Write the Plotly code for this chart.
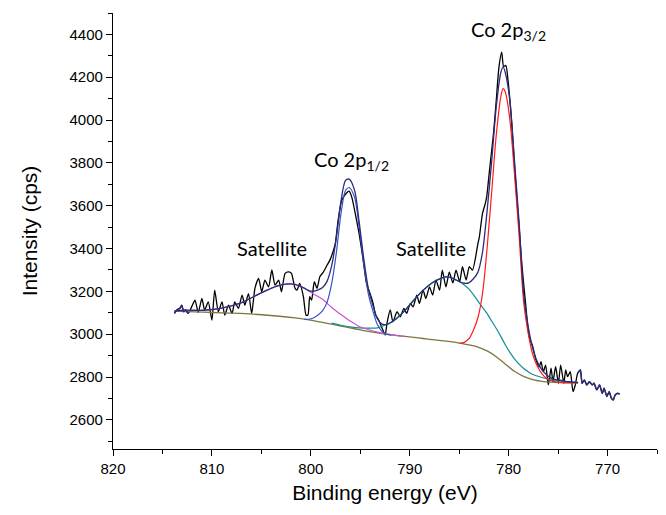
import plotly.graph_objects as go

# ---------------- data (binding energy in eV, intensity in cps) ----------------
raw_E = [813.79, 813.55, 813.23, 813.05, 812.86, 812.68, 812.40, 812.03, 811.71, 811.38,
         811.01, 810.74, 810.37, 810.00, 809.72, 809.35, 808.98, 808.70, 808.33, 807.96,
         807.69, 807.32, 806.95, 806.67, 806.30, 805.98, 805.65, 805.28, 804.96, 804.64,
         804.27, 803.94, 803.62, 803.25, 802.97, 802.60, 802.23, 801.96, 801.59, 801.40,
         801.12, 800.75, 800.48, 800.29, 800.11, 799.92, 799.65, 799.37, 799.09, 798.72,
         798.35, 798.07, 797.70, 797.52, 797.24, 796.87, 796.41, 796.13, 795.86, 795.49,
         795.12, 794.75, 794.38, 794.01, 793.73, 793.45, 793.18, 792.81, 792.48, 792.30,
         791.97, 791.70, 791.28, 790.96, 790.59, 790.31, 789.94, 789.66, 789.29, 789.02,
         788.65, 788.37, 788.00, 787.68, 787.35, 786.98, 786.71, 786.34, 786.00, 785.64,
         785.32, 784.95, 784.67, 784.30, 783.98, 783.66, 783.10, 782.96, 782.64, 782.36,
         782.22, 781.90, 781.53, 781.25, 780.98, 780.70, 780.51, 780.28, 780.05, 779.68,
         779.31, 778.94, 778.67, 778.30, 777.93, 777.56, 777.28, 776.91, 776.73, 776.49,
         776.26, 775.99, 775.71, 775.52, 775.25, 774.97, 774.74, 774.42, 774.23, 774.04,
         773.77, 773.49, 773.26, 773.03, 772.75, 772.57, 772.34, 772.10, 771.83, 771.55,
         771.37, 771.09, 770.81, 770.53, 770.35, 770.07, 769.84, 769.61, 769.42, 769.24,
         768.96, 768.78]
raw_I = [3097, 3113, 3121, 3136, 3105, 3113, 3097, 3130, 3159, 3102,
         3167, 3113, 3151, 3066, 3206, 3105, 3151, 3089, 3136, 3097,
         3151, 3121, 3183, 3136, 3190, 3097, 3214, 3261, 3198, 3253,
         3221, 3300, 3229, 3253, 3198, 3284, 3291, 3284, 3214, 3206,
         3237, 3175, 3089, 3090, 3175, 3159, 3245, 3214, 3268, 3291,
         3323, 3346, 3393, 3424, 3532, 3626, 3658, 3668, 3640, 3560,
         3470, 3360, 3240, 3190, 3150, 3090, 3070, 3030, 2996, 3051,
         3113, 3058, 3105, 3081, 3121, 3097, 3144, 3128, 3183, 3144,
         3206, 3167, 3221, 3183, 3253, 3206, 3299, 3221, 3290, 3240,
         3299, 3245, 3315, 3253, 3315, 3299, 3424, 3455, 3564, 3610,
         3641, 3781, 3937, 4092, 4247, 4317, 4250, 4255, 4180, 3980,
         3720, 3500, 3330, 3150, 2990, 2942, 2887, 2848, 2872, 2825,
         2856, 2763, 2841, 2778, 2848, 2771, 2856, 2771, 2833, 2802,
         2825, 2732, 2763, 2817, 2833, 2771, 2786, 2763, 2778, 2763,
         2771, 2740, 2763, 2724, 2748, 2709, 2732, 2701, 2693, 2716,
         2724, 2720]

bg_E = [813.80, 812.68, 810.83, 808.98, 807.13, 805.28, 803.43, 801.59, 800.66, 799.74,
        798.81, 797.89, 796.96, 796.04, 795.11, 794.19, 793.27, 792.34, 791.42, 790.50,
        789.57, 788.65, 787.72, 786.80, 785.88, 784.95, 784.03, 783.10, 782.18, 781.25,
        780.33, 779.41, 778.48, 777.56, 776.64, 775.71, 774.79, 773.86, 772.98]
bg_I = [3108, 3106, 3103, 3100, 3097, 3092, 3085, 3076, 3070, 3063,
        3055, 3047, 3038, 3030, 3021, 3013, 3006, 3000, 2995, 2990,
        2985, 2980, 2975, 2970, 2965, 2958, 2950, 2940, 2922, 2895,
        2860, 2827, 2803, 2788, 2780, 2776, 2774, 2773, 2773]

p32_E = [784.96, 784.49, 784.03, 783.56, 783.10, 782.64, 782.18, 781.72, 781.25, 780.79,
         780.56, 780.33, 779.87, 779.41, 778.94, 778.48, 778.02, 777.56, 777.10, 776.63,
         776.17, 775.71, 775.25, 774.79, 773.86, 772.98]
p32_I = [2957, 2962, 2978, 3019, 3078, 3190, 3400, 3660, 3930, 4110,
         4147, 4130, 4000, 3750, 3460, 3150, 3004, 2905, 2850, 2815,
         2794, 2783, 2778, 2775, 2774, 2773]

sat32_E = [797.89, 796.96, 796.04, 795.11, 794.19, 793.27, 792.34, 791.42, 790.50, 789.57,
           788.65, 787.72, 786.80, 786.34, 785.88, 785.41, 784.95, 784.49, 784.03, 783.56,
           783.10, 782.64, 782.18, 781.72, 781.25, 780.79, 780.33, 779.87, 779.41, 778.94,
           778.48, 778.02, 777.56, 776.63, 775.71, 774.79, 773.86, 772.98]
sat32_I = [3052, 3042, 3034, 3030, 3028, 3030, 3045, 3070, 3110, 3160,
           3205, 3240, 3262, 3268, 3265, 3255, 3245, 3230, 3212, 3185,
           3155, 3125, 3097, 3062, 3027, 2990, 2950, 2915, 2885, 2860,
           2840, 2825, 2812, 2798, 2788, 2782, 2776, 2774]

sat12_E = [813.80, 812.68, 810.83, 808.98, 807.13, 806.21, 805.28, 804.36, 803.43, 802.51,
           801.59, 800.66, 799.74, 798.81, 797.89, 796.96, 796.04, 795.11, 794.19, 793.27,
           792.34, 791.42, 790.50]
sat12_I = [3108, 3110, 3112, 3122, 3145, 3165, 3187, 3207, 3225, 3234,
           3232, 3215, 3188, 3163, 3125, 3092, 3062, 3036, 3022, 3010,
           3001, 2995, 2990]

p12_E = [800.66, 800.20, 799.74, 799.27, 798.81, 798.35, 797.89, 797.42, 796.96, 796.50,
         796.13, 795.58, 795.11, 794.65, 794.19, 793.73, 793.27, 792.80, 792.34, 791.88]
p12_I = [3070, 3070, 3076, 3090, 3110, 3150, 3237, 3380, 3560, 3670,
         3685, 3640, 3500, 3330, 3190, 3110, 3045, 3012, 3000, 2996]

env_E = [813.80, 812.68, 810.83, 808.98, 807.13, 806.21, 805.28, 804.36, 803.43, 802.51,
         801.59, 800.66, 800.20, 799.74, 799.27, 798.81, 798.35, 797.89, 797.42, 796.96,
         796.50, 796.13, 795.58, 795.11, 794.65, 794.19, 793.73, 793.27, 792.80, 792.34,
         791.42, 790.50, 789.57, 788.65, 787.72, 786.80, 786.34, 785.88, 785.41, 784.95,
         784.49, 784.03, 783.56, 783.10, 782.64, 782.18, 781.72, 781.25, 780.79, 780.56,
         780.33, 779.87, 779.41, 778.94, 778.48, 778.02, 777.56, 777.10, 776.63, 776.17,
         775.71, 775.25, 774.79, 773.86, 772.98]
env_I = [3108, 3112, 3112, 3122, 3145, 3165, 3187, 3207, 3225, 3234,
         3233, 3215, 3204, 3201, 3207, 3218, 3248, 3320, 3451, 3618,
         3717, 3724, 3673, 3524, 3354, 3214, 3136, 3073, 3047, 3046,
         3070, 3110, 3160, 3205, 3240, 3262, 3268, 3265, 3256, 3245,
         3238, 3240, 3259, 3290, 3384, 3575, 3804, 4062, 4222, 4248,
         4220, 4090, 3810, 3520, 3187, 3034, 2934, 2871, 2833, 2811,
         2795, 2788, 2785, 2778, 2775]

fit_low, fit_high = 773.1, 812.4   # fitting window (data outside shown in navy)

labels = ["Satellite", "Satellite", "Co 2p<sub>1/2</sub>", "Co 2p<sub>3/2</sub>"]
label_E = [803.9, 787.9, 795.9, 780.05]
label_I = [3402, 3402, 3812, 4419]

# ---------------- figure ----------------
NAVY = "#2c2c7c"
fig = go.Figure()

def line(x, y, color, width=1.2, shape="spline", smoothing=0.8):
    fig.add_trace(go.Scatter(x=x, y=y, mode="lines",
                             line=dict(color=color, width=width, shape=shape, smoothing=smoothing),
                             showlegend=False, hoverinfo="skip"))

line(raw_E, raw_I, "#000000", 1.3, smoothing=0.6)
line(bg_E, bg_I, "#7e7640", 1.3)
line(sat32_E, sat32_I, "#12918f", 1.2)
line(sat12_E, sat12_I, "#cf4fcf", 1.2)
line(p12_E, p12_I, "#3552c8", 1.2)
line(p32_E, p32_I, "#ff1a1a", 1.2)
line(env_E, env_I, NAVY, 1.3)

left = [(e, i) for e, i in zip(raw_E, raw_I) if e >= fit_high]
right = [(e, i) for e, i in zip(raw_E, raw_I) if e <= fit_low]
line([p[0] for p in left], [p[1] for p in left], NAVY, 1.4, smoothing=0.6)
line([p[0] for p in right], [p[1] for p in right], NAVY, 1.4, smoothing=0.6)

for t, e, i in zip(labels, label_E, label_I):
    fig.add_annotation(x=e, y=i, text=t, showarrow=False,
                       font=dict(family="Lato, Noto Sans, sans-serif", size=20, color="#000000"))

FONT = "Liberation Sans, Arial, sans-serif"
axis_common = dict(showline=True, linecolor="#000000", linewidth=1.3, showgrid=False,
                   zeroline=False, ticks="outside", ticklen=6, tickwidth=1.2,
                   tickcolor="#000000",
                   tickfont=dict(family=FONT, size=15, color="#000000"))

fig.update_layout(
    width=666, height=515,
    margin=dict(l=113, r=9, t=13, b=66),
    plot_bgcolor="#ffffff", paper_bgcolor="#ffffff",
    xaxis=dict(range=[820, 765], tickmode="linear", tick0=770, dtick=10,
               minor=dict(ticks="outside", ticklen=4, tickwidth=1.2, tickcolor="#000000", dtick=5, tick0=765),
               title=dict(text="Binding energy (eV)", standoff=9,
                          font=dict(family=FONT, size=21, color="#000000")),
               **axis_common),
    yaxis=dict(range=[2464, 4500], tickmode="linear", tick0=2600, dtick=200,
               minor=dict(ticks="outside", ticklen=4, tickwidth=1.2, tickcolor="#000000", dtick=100),
               title=dict(text="Intensity (cps)", standoff=26,
                          font=dict(family=FONT, size=21, color="#000000")),
               **axis_common),
)
fig.update_xaxes(automargin=False)
fig.update_yaxes(automargin=False)

fig.write_html("out.html", config={"displayModeBar": False},
               post_script="document.body.style.margin='0px';document.body.style.padding='0px';")
